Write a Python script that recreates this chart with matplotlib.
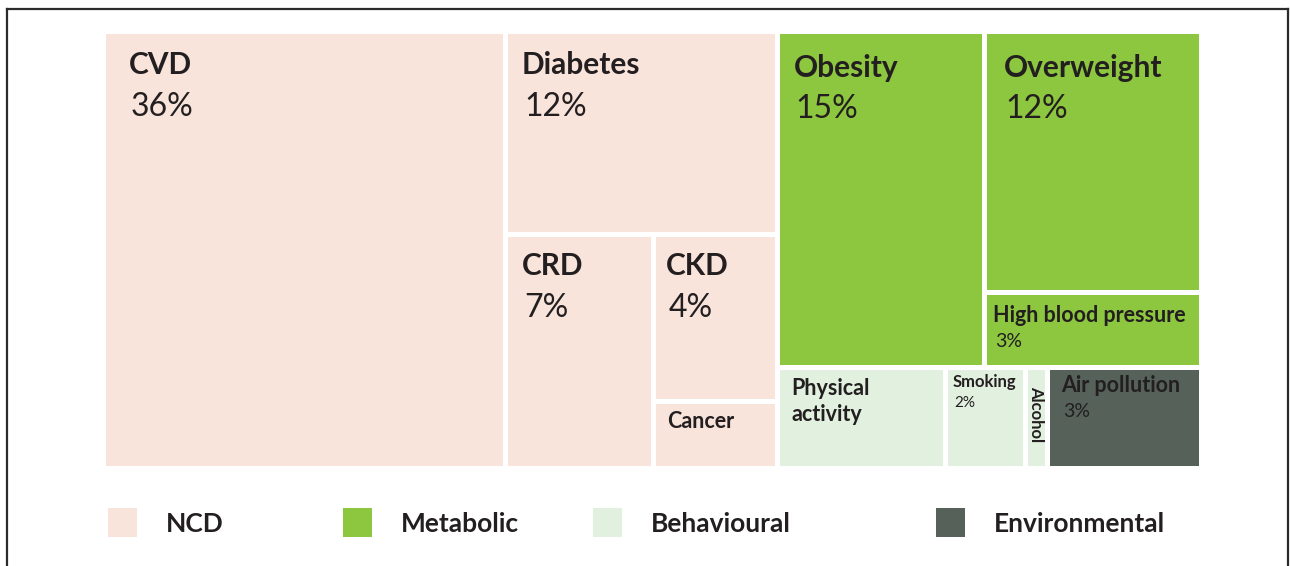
import matplotlib
matplotlib.use('Agg')
import matplotlib.pyplot as plt
from matplotlib.patches import Rectangle
from matplotlib.lines import Line2D

plt.rcParams['font.family'] = ['Lato', 'DejaVu Sans']

# data
groups = ['NCD', 'Metabolic', 'Behavioural', 'Environmental']
group_colors = ['#f9e4dc', '#8dc63f', '#e1f0df', '#556159']

names = ['CVD', 'Diabetes', 'CRD', 'CKD', 'Cancer',
         'Obesity', 'Overweight', 'High blood pressure',
         'Physical\nactivity', 'Smoking', 'Alcohol', 'Air pollution']
shares = [36, 11.3, 7.1, 4.2, 1.7, 14.3, 11.6, 3.3, 3.5, 1.65, 0.45, 3.2]
pct_labels = ['36%', '12%', '7%', '4%', '', '15%', '12%', '3%', '', '2%', '', '3%']
group_of = [0, 0, 0, 0, 0, 1, 1, 1, 2, 2, 2, 3]

# how the tiles are nested (h = side by side, v = stacked)
tree = ('h', [0,
              ('v', [1, ('h', [2, ('v', [3, 4])])]),
              ('v', [('h', [5, ('v', [6, 7])]), ('h', [8, 9, 10, 11])])])

# text style per tile: name size, pct size, dx, name baseline, pct baseline (px)
styles = {
    0: (21.5, 23, 23, 40, 82),
    1: (21.5, 23, 14, 40, 82),
    2: (21.5, 23, 14, 38, 80),
    3: (21.5, 23, 10, 38, 80),
    4: (15.5, 14, 11, 24, 0),
    5: (21.5, 23, 14, 43, 84),
    6: (21.5, 23, 16, 43, 84),
    7: (15.5, 14, 6, 27, 52),
    8: (15.5, 14, 12, 25, 0),
    9: (12, 11, 4, 17, 37),
    10: (12, 11, 0, 16, 0),
    11: (15.5, 14, 11, 22, 47),
}

W, H = 1290, 566
fig = plt.figure(figsize=(W / 100, H / 100), dpi=100)

# outer frame
lc = '#2b2b2b'
fig.add_artist(Line2D([7 / W, 7 / W], [0, 1 - 9 / H], color=lc, lw=1.6))
fig.add_artist(Line2D([1288 / W, 1288 / W], [0, 1 - 9 / H], color=lc, lw=1.6))
fig.add_artist(Line2D([7 / W, 1288 / W], [1 - 9 / H, 1 - 9 / H], color=lc, lw=1.6))

ax_l, ax_t, ax_w, ax_h = 103.5, 31.5, 1098, 437
ax = fig.add_axes([ax_l / W, 1 - (ax_t + ax_h) / H, ax_w / W, ax_h / H])
ax.set_xlim(0, 1)
ax.set_ylim(1, 0)
ax.axis('off')


def total(node):
    if isinstance(node, int):
        return shares[node]
    return sum(total(k) for k in node[1])


def layout(node, x, y, w, h, out):
    if isinstance(node, int):
        out[node] = (x, y, w, h)
        return
    d, kids = node
    t = total(node)
    for k in kids:
        f = total(k) / t
        if d == 'h':
            layout(k, x, y, w * f, h, out)
            x += w * f
        else:
            layout(k, x, y, w, h * f, out)
            y += h * f


rects = {}
layout(tree, 0, 0, 1, 1, rects)

gx, gy = 2.5 / ax_w, 2.5 / ax_h
txt = '#231f20'
for i, (x, y, w, h) in rects.items():
    ax.add_patch(Rectangle((x + gx, y + gy), w - 2 * gx, h - 2 * gy,
                           facecolor=group_colors[group_of[i]], edgecolor='none'))
    fs_n, fs_p, dx, by_n, by_p = styles[i]
    left = x + gx + dx / ax_w
    top = y + gy
    if names[i] == 'Alcohol':
        ax.text(x + w / 2, top + by_n / ax_h, names[i], rotation=270,
                ha='center', va='top', fontsize=fs_n, fontweight='bold', color=txt)
        continue
    for j, line in enumerate(names[i].split('\n')):
        ax.text(left, top + (by_n + 26 * j) / ax_h, line, ha='left', va='baseline',
                fontsize=fs_n, fontweight='bold', color=txt)
    if pct_labels[i]:
        ax.text(left + 2 / ax_w, top + by_p / ax_h, pct_labels[i], ha='left',
                va='baseline', fontsize=fs_p, fontweight='normal', color=txt)

# legend
leg_x = [108, 343, 593, 936]
for g, lx in enumerate(leg_x):
    fig.add_artist(Rectangle((lx / W, 1 - 537 / H), 29 / W, 29 / H,
                             facecolor=group_colors[g], edgecolor='none',
                             transform=fig.transFigure))
    fig.text((lx + 58) / W, 1 - 532 / H, groups[g], ha='left', va='baseline',
             fontsize=19, fontweight='bold', color=txt)

fig.savefig('out.png', dpi=100)
